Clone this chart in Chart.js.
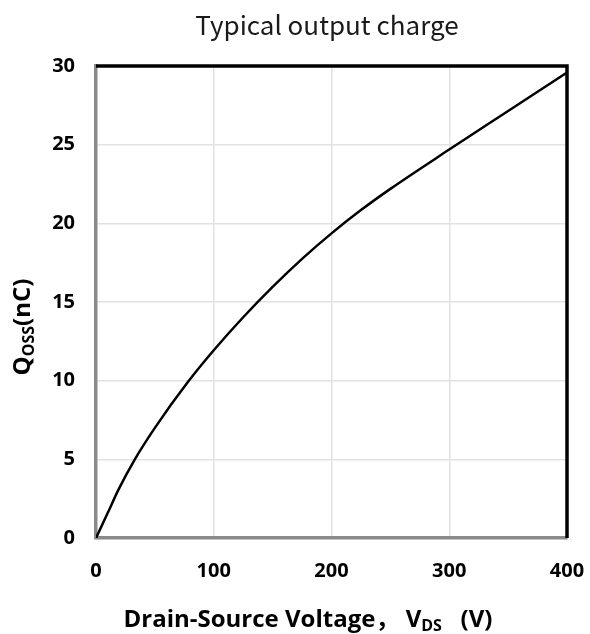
<!DOCTYPE html>
<html>
<head>
<meta charset="utf-8">
<script src="https://cdn.jsdelivr.net/npm/chart.js"></script>
<style>
  body { margin: 0; background: #fff; }
  #wrap { width: 590px; height: 634px; position: relative; }
</style>
</head>
<body>
<div id="wrap"><canvas id="qoss-chart"></canvas></div>
<script>
// values
const voltage = [0, 10, 19, 33, 50, 78, 100, 125, 150, 175, 200, 225, 250, 300, 350, 400];
const qoss = [0, 1.6, 3.06, 5, 7.0, 9.91, 11.93, 14.03, 15.96, 17.74, 19.36, 20.84, 22.19, 24.69, 27.14, 29.59];
const xTicks = [0, 100, 200, 300, 400];
const yTicks = [0, 5, 10, 15, 20, 25, 30];

const chartTitle = 'Typical output charge';

const points = voltage.map((v, i) => ({ x: v, y: qoss[i] }));

// title, axis titles with subscripts and the black top/right frame
const extras = {
  id: 'extras',
  afterDraw(chart) {
    const ctx = chart.ctx;
    const a = chart.chartArea;
    ctx.save();

    ctx.strokeStyle = '#000';
    ctx.lineWidth = 3.5;
    ctx.beginPath();
    ctx.moveTo(a.left, a.top);
    ctx.lineTo(a.right, a.top);
    ctx.lineTo(a.right, a.bottom);
    ctx.stroke();

    ctx.fillStyle = '#1a1a1a';
    ctx.font = '26px "Noto Sans CJK SC", sans-serif';
    ctx.textAlign = 'center';
    ctx.textBaseline = 'alphabetic';
    ctx.fillText(chartTitle, 327, 35);

    // x title
    ctx.fillStyle = '#000';
    const big = 'bold 24px "Open Sans", "Noto Sans CJK SC", sans-serif';
    const small = 'bold 16px "Open Sans", sans-serif';
    const parts = [
      { t: 'Drain-Source Voltage\uFF0C V', f: big, dy: 0 },
      { t: 'DS', f: small, dy: 4 },
      { t: '   (V)', f: big, dy: 0 }
    ];
    let total = 0;
    parts.forEach(p => { ctx.font = p.f; p.w = ctx.measureText(p.t).width; total += p.w; });
    let x = 308 - total / 2;
    ctx.textAlign = 'left';
    parts.forEach(p => { ctx.font = p.f; ctx.fillText(p.t, x, 627 + p.dy); x += p.w; });

    // y title, rotated
    ctx.translate(30, 327);
    ctx.rotate(-Math.PI / 2);
    const yparts = [
      { t: 'Q', f: big, dy: 0 },
      { t: 'OSS', f: small, dy: 4 },
      { t: '(nC)', f: big, dy: 0 }
    ];
    total = 0;
    yparts.forEach(p => { ctx.font = p.f; p.w = ctx.measureText(p.t).width; total += p.w; });
    x = -total / 2;
    yparts.forEach(p => { ctx.font = p.f; ctx.fillText(p.t, x, p.dy); x += p.w; });

    ctx.restore();
  }
};

const tickFont = { family: '"Open Sans", sans-serif', size: 20, weight: 'bold' };

new Chart(document.getElementById('qoss-chart'), {
  type: 'line',
  data: {
    datasets: [{
      data: points,
      borderColor: '#000',
      borderWidth: 2.5,
      pointRadius: 0,
      fill: false,
      cubicInterpolationMode: 'monotone'
    }]
  },
  options: {
    responsive: true,
    maintainAspectRatio: false,
    animation: false,
    layout: { padding: { top: 66, right: 23, left: 0, bottom: 0 } },
    plugins: {
      legend: { display: false },
      tooltip: { enabled: false }
    },
    scales: {
      x: {
        type: 'linear',
        min: 0,
        max: 400,
        afterBuildTicks: s => { s.ticks = xTicks.map(v => ({ value: v })); },
        afterFit: s => { s.height = 96; s.paddingLeft = 0; s.paddingRight = 0; },
        grid: { color: '#e2e2e2', lineWidth: 1.5, drawTicks: false },
        border: { color: '#8a8a8a', width: 3.5 },
        ticks: { color: '#000', font: tickFont, padding: 21, maxRotation: 0 }
      },
      y: {
        min: 0,
        max: 30,
        afterBuildTicks: s => { s.ticks = yTicks.map(v => ({ value: v })); },
        afterFit: s => { s.width = 96; s.paddingTop = 0; s.paddingBottom = 0; },
        grid: { color: '#e2e2e2', lineWidth: 1.5, drawTicks: false },
        border: { color: '#8a8a8a', width: 3.5 },
        ticks: { color: '#000', font: tickFont, padding: 21 }
      }
    }
  },
  plugins: [extras]
});
</script>
</body>
</html>
